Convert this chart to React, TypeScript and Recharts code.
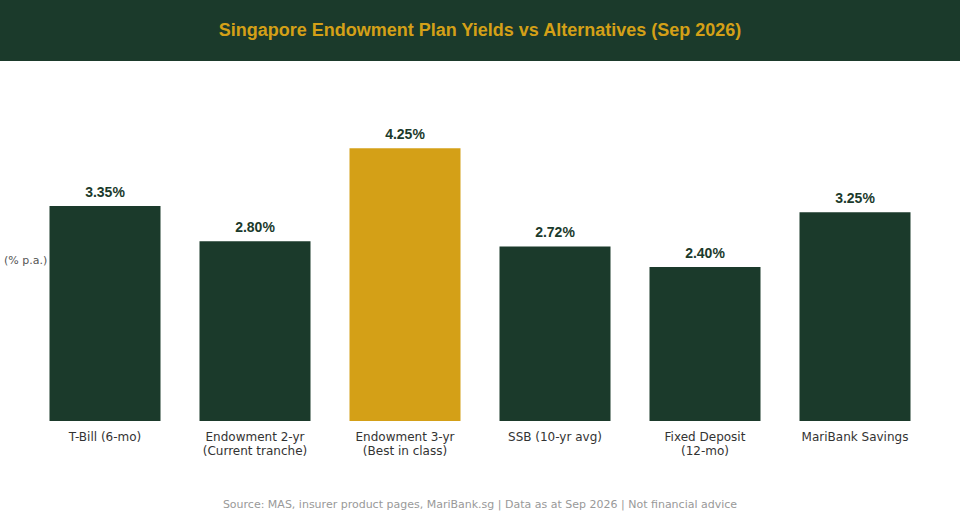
import { BarChart, Bar, XAxis, YAxis, Cell, LabelList } from "recharts";

const categories = [
  "T-Bill (6-mo)",
  "Endowment 2-yr\n(Current tranche)",
  "Endowment 3-yr\n(Best in class)",
  "SSB (10-yr avg)",
  "Fixed Deposit\n(12-mo)",
  "MariBank Savings",
];
const yields = [3.35, 2.8, 4.25, 2.72, 2.4, 3.25];
const highlight = [false, false, true, false, false, false];

const data = categories.map((name, i) => ({ name, value: yields[i] }));

const GREEN = "#1B3A2B";
const GOLD = "#D4A017";

function WrappedTick({ x, y, payload }: any) {
  const lines = String(payload.value).split("\n");
  return (
    <text
      x={x}
      y={y}
      textAnchor="middle"
      fill="#333333"
      fontSize={12}
      fontFamily="DejaVu Sans, sans-serif"
    >
      {lines.map((line, i) => (
        <tspan key={i} x={x} dy={i === 0 ? 12 : 14}>
          {line}
        </tspan>
      ))}
    </text>
  );
}

export default function App() {
  return (
    <div style={{ position: "relative", width: 960, height: 520, background: "#fff" }}>
      <style>{"body{margin:0}"}</style>
      <div
        style={{
          height: 61,
          background: GREEN,
          color: GOLD,
          fontFamily: "Liberation Sans, Arial, sans-serif",
          fontWeight: 700,
          fontSize: 18,
          lineHeight: "61px",
          textAlign: "center",
        }}
      >
        Singapore Endowment Plan Yields vs Alternatives (Sep 2026)
      </div>
      <BarChart
        width={960}
        height={420}
        data={data}
        margin={{ top: 39, right: 30, bottom: 20, left: 0 }}
        barCategoryGap="13%"
      >
        <XAxis
          dataKey="name"
          axisLine={false}
          tickLine={false}
          interval={0}
          height={40}
          tick={<WrappedTick />}
        />
        <YAxis
          domain={[0, 5]}
          width={30}
          tick={false}
          axisLine={false}
          tickLine={false}
          label={{
            value: "(% p.a.)",
            position: "insideLeft",
            offset: 4,
            fill: "#555555",
            fontSize: 11,
            fontFamily: "DejaVu Sans, sans-serif",
          }}
        />
        <Bar dataKey="value" isAnimationActive={false}>
          {data.map((_, i) => (
            <Cell key={`cell-${i}`} fill={highlight[i] ? GOLD : GREEN} />
          ))}
          <LabelList
            dataKey="value"
            position="top"
            offset={9}
            formatter={(v: any) => `${Number(v).toFixed(2)}%`}
            fill={GREEN}
            fontSize={14}
            fontWeight={700}
            fontFamily="Liberation Sans, Arial, sans-serif"
          />
        </Bar>
      </BarChart>
      <div
        style={{
          position: "absolute",
          top: 498,
          left: 0,
          width: 960,
          textAlign: "center",
          color: "#999999",
          fontSize: 11,
          lineHeight: "14px",
          fontFamily: "DejaVu Sans, sans-serif",
        }}
      >
        Source: MAS, insurer product pages, MariBank.sg | Data as at Sep 2026 | Not financial advice
      </div>
    </div>
  );
}
